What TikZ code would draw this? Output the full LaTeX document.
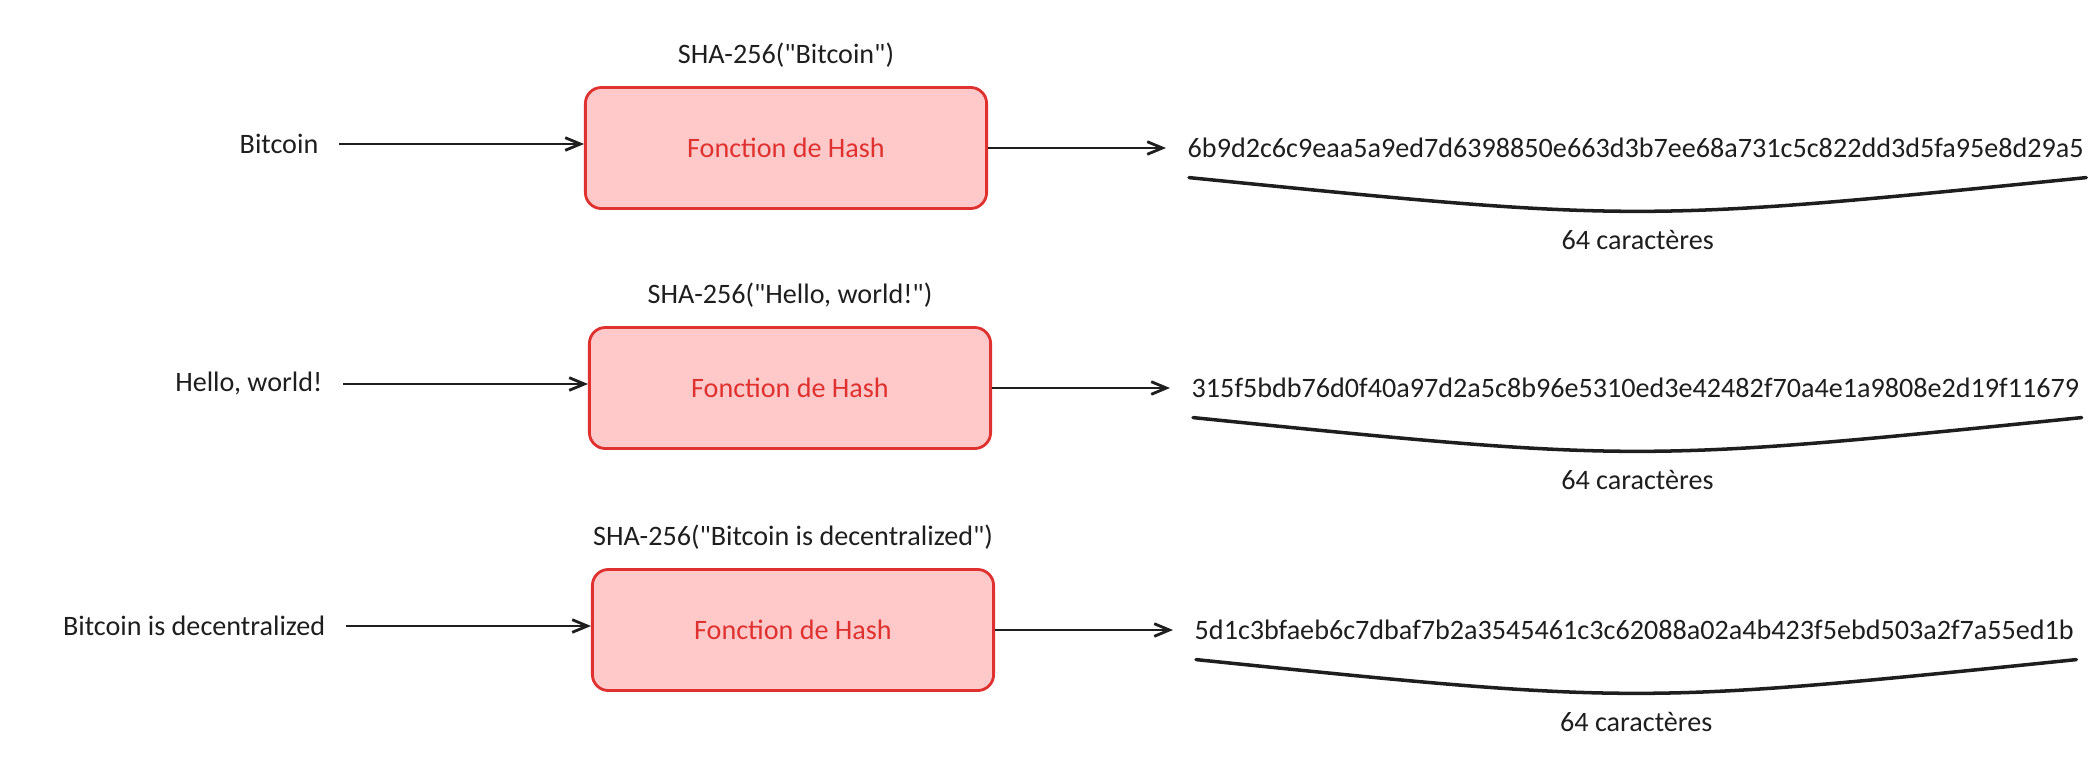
\documentclass[tikz,border=0pt]{standalone}
\usepackage{fontspec}
\setmainfont{Carlito}
\usetikzlibrary{positioning, arrows.meta, calc}
\definecolor{hashred}{HTML}{E03131}
\definecolor{hashfill}{HTML}{FFC9C9}
\definecolor{ink}{HTML}{1E1E1E}
\tikzset{
hashbox/.style={
  rectangle,
  draw=hashred,
  fill=hashfill,
  text=hashred,
  line width=0.8pt,
  rounded corners=0.16cm,
  minimum width=4.01cm,
  minimum height=1.21cm,
 },
link/.style={draw=ink, line width=0.8pt, -{Straight Barb[length=4.3pt,width=3.6pt]}},
underarc/.style={draw=ink, line width=1pt, line cap=round},
txt/.style={text=ink, inner sep=0pt}
}
\begin{document}
\begin{tikzpicture}[x=0.01cm, y=-0.01cm, font=\fontsize{8}{10}\selectfont]
 \useasboundingbox (0,0) rectangle (2100,778);
 \foreach \i/\dx/\y/\msg/\hash in {
   1/0/148/Bitcoin/6b9d2c6c9eaa5a9ed7d6398850e663d3b7ee68a731c5c822dd3d5fa95e8d29a5,
   2/4/388/{Hello, world!}/315f5bdb76d0f40a97d2a5c8b96e5310ed3e42482f70a4e1a9808e2d19f11679,
   3/7/630/Bitcoin is decentralized/5d1c3bfaeb6c7dbaf7b2a3545461c3c62088a02a4b423f5ebd503a2f7a55ed1b}
 {
 \node[hashbox] (fn\i) at (786+\dx,\y) {Fonction de Hash};
 \node[txt, above=0.18cm of fn\i] (sha\i) {SHA-256(\textquotedbl\msg\textquotedbl)};
 \node[txt, anchor=east] (in\i) at (319+\dx,\y-4) {\msg};
 \draw[link, shorten <=0.2cm] (in\i.east) -- (in\i.east -| fn\i.west);
 \node[txt, anchor=west] (hash\i) at (1187+\dx,\y) {\hash};
 \draw[link, shorten >=0.21cm] (fn\i.east) -- (hash\i.west);
 % arc under the hash
 \coordinate (bl\i) at ([xshift=0.02cm,yshift=-0.19cm]hash\i.south west);
 \coordinate (br\i) at ([xshift=0.02cm,yshift=-0.19cm]hash\i.south east);
 \coordinate (mid\i) at ($(bl\i)!0.5!(br\i)$);
 \draw[underarc] (bl\i) .. controls ($(mid\i)+(0,45)$) .. (br\i);
 \node[txt, below=0.52cm of mid\i] (cnt\i) {64 caractères};
 }
\end{tikzpicture}
\end{document}
